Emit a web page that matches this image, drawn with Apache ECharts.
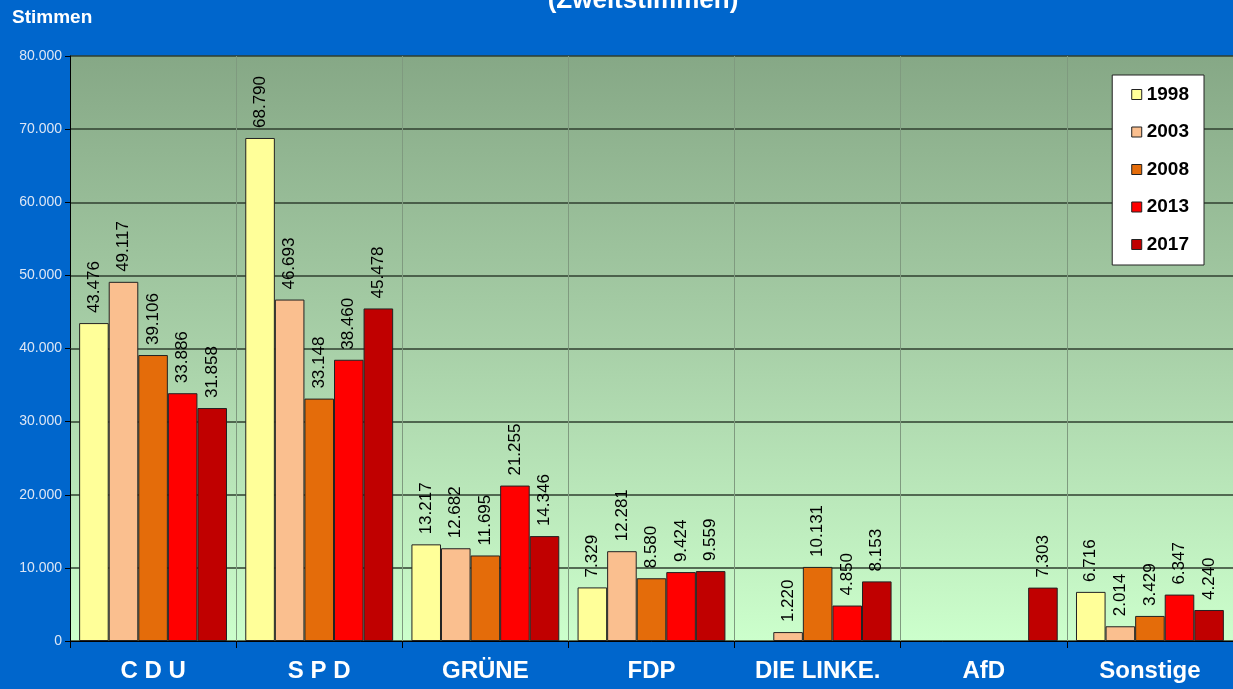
<!DOCTYPE html>
<html>
<head>
<meta charset="utf-8">
<script src="https://cdn.jsdelivr.net/npm/echarts@6/dist/echarts.min.js"></script>
<style>
  html, body { margin: 0; padding: 0; background: #0066cc; }
  #chart { width: 1233px; height: 689px; }
</style>
</head>
<body>
<div id="chart"></div>
<script>
// Zweitstimmen by party and election year
var parteien = ['C D U', 'S P D', 'GRÜNE', 'FDP', 'DIE LINKE.', 'AfD', 'Sonstige'];
var jahre = ['1998', '2003', '2008', '2013', '2017'];
var farben = ['#ffff99', '#fabf8f', '#e46c0a', '#ff0000', '#c00000'];

var w1998 = [43476, 68790, 13217, 7329, '-', '-', 6716];
var w2003 = [49117, 46693, 12682, 12281, 1220, '-', 2014];
var w2008 = [39106, 33148, 11695, 8580, 10131, '-', 3429];
var w2013 = [33886, 38460, 21255, 9424, 4850, '-', 6347];
var w2017 = [31858, 45478, 14346, 9559, 8153, 7303, 4240];
var werte = [w1998, w2003, w2008, w2013, w2017];

function punkt(v) {
  return String(v).replace(/\B(?=(\d{3})+(?!\d))/g, '.');
}

var chart = echarts.init(document.getElementById('chart'));

var series = jahre.map(function (j, i) {
  return {
    name: j,
    type: 'bar',
    data: werte[i],
    barGap: '0%',
    barCategoryGap: '11%',
    itemStyle: { color: farben[i], borderColor: '#222', borderWidth: 1 },
    label: {
      show: true,
      position: 'top',
      rotate: 90,
      align: 'left',
      verticalAlign: 'middle',
      distance: 10,
      color: '#000',
      fontFamily: 'Liberation Sans, Arial',
      fontSize: 17,
      formatter: function (p) { return punkt(p.value); }
    }
  };
});

chart.setOption({
  backgroundColor: '#0066cc',
  animation: false,
  title: [{
    text: '(Zweitstimmen)',
    left: 638, textAlign: 'center', top: -17,
    textStyle: { color: '#fff', fontSize: 26, fontWeight: 'bold', fontFamily: 'Liberation Sans, Arial' }
  }, {
    text: 'Stimmen',
    left: 7, top: 3,
    textStyle: { color: '#fff', fontSize: 19, fontWeight: 'bold', fontFamily: 'Liberation Sans, Arial' }
  }],
  legend: {
    orient: 'vertical',
    right: 29, top: 75,
    backgroundColor: '#fff',
    borderColor: '#222',
    borderWidth: 1,
    padding: [10, 15, 11, 19],
    itemGap: 18.5,
    itemWidth: 10, itemHeight: 10,
    icon: 'rect',
    itemStyle: { borderColor: '#222', borderWidth: 1 },
    textStyle: { color: '#000', fontSize: 19, fontWeight: 'bold', fontFamily: 'Liberation Sans, Arial' },
    data: jahre
  },
  grid: {
    left: 70, right: 0, top: 56, bottom: 48,
    show: true,
    borderWidth: 0,
    backgroundColor: new echarts.graphic.LinearGradient(0, 0, 0, 1, [
      { offset: 0, color: '#86a886' },
      { offset: 0.5, color: '#a8d0a8' },
      { offset: 1, color: '#ccffcc' }
    ])
  },
  xAxis: {
    type: 'category',
    data: parteien,
    axisLine: { lineStyle: { color: '#000', width: 1 } },
    axisTick: { show: true, length: 7, lineStyle: { color: '#000' } },
    splitLine: { show: true, lineStyle: { color: '#7f9a7f', width: 1 } },
    axisLabel: {
      color: '#fff', fontSize: 24, fontWeight: 'bold', fontFamily: 'Liberation Sans, Arial',
      margin: 18, interval: 0
    }
  },
  yAxis: {
    type: 'value',
    min: 0, max: 80000, interval: 10000,
    axisLine: { show: true, lineStyle: { color: '#000', width: 1 } },
    axisTick: { show: true, length: 5, lineStyle: { color: '#000' } },
    splitLine: { show: true, lineStyle: { color: '#2f3f2f', width: 1.5 } },
    axisLabel: {
      color: '#dce6f5', fontSize: 14, fontFamily: 'Liberation Sans, Arial', margin: 8,
      formatter: function (v) { return punkt(v); }
    }
  },
  series: series
});
</script>
</body>
</html>
